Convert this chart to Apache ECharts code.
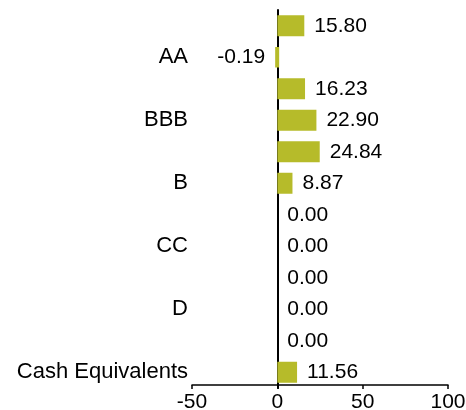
<!DOCTYPE html>
<html>
<head>
<meta charset="utf-8">
<script src="https://cdn.jsdelivr.net/npm/echarts@6/dist/echarts.min.js"></script>
<style>
  html, body { margin: 0; padding: 0; background: #fff; }
  #chart { width: 466px; height: 410px; }
</style>
</head>
<body>
<div id="chart"></div>
<script>
// Credit quality allocation (%)
const ratings = ['AAA', 'AA', 'A', 'BBB', 'BB', 'B', 'CCC', 'CC', 'C', 'D', 'NR', 'Cash Equivalents'];
const weights = [15.80, -0.19, 16.23, 22.90, 24.84, 8.87, 0.00, 0.00, 0.00, 0.00, 0.00, 11.56];
const xTicks = [-50, 0, 50, 100];

const FONT = '"Liberation Sans", Arial, sans-serif';
const FONT_SIZE = 21;
const BAR_COLOR = '#b6bb2a';

const chart = echarts.init(document.getElementById('chart'), null, { renderer: 'canvas' });

chart.setOption({
  animation: false,
  grid: { left: 192, right: 18, top: 10, bottom: 22, containLabel: false, outerBoundsMode: 'none' },
  xAxis: {
    type: 'value',
    min: xTicks[0],
    max: xTicks[xTicks.length - 1],
    interval: 50,
    offset: -3,
    axisLine: { show: true, onZero: false, lineStyle: { color: '#000', width: 1.5 } },
    axisTick: { show: true, length: 4, lineStyle: { color: '#000', width: 1.5 } },
    splitLine: { show: false },
    axisLabel: { color: '#000', fontSize: FONT_SIZE, fontFamily: FONT, margin: 7 }
  },
  yAxis: {
    type: 'category',
    data: ratings,
    inverse: true,
    axisLine: { show: true, onZero: true, lineStyle: { color: '#000', width: 2 } },
    axisTick: { show: false },
    axisLabel: {
      color: '#000',
      fontSize: 22,
      fontFamily: FONT,
      margin: 4,
      interval: (idx) => idx % 2 === 1
    }
  },
  series: [{
    type: 'bar',
    barWidth: 21,
    itemStyle: { color: BAR_COLOR },
    data: weights.map(v => ({
      value: v,
      // keep very small negative weights visible beside the zero line
      itemStyle: v < 0 ? { borderColor: BAR_COLOR, borderWidth: 4 } : undefined,
      label: { position: v < 0 ? 'left' : 'right' }
    })),
    label: {
      show: true,
      distance: 10,
      color: '#000',
      fontSize: FONT_SIZE,
      fontFamily: FONT,
      formatter: (p) => p.value.toFixed(2)
    }
  }]
});
</script>
</body>
</html>
